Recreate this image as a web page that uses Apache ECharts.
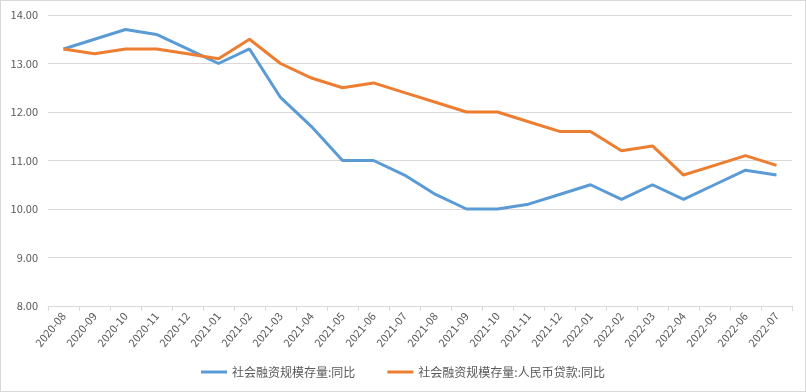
<!DOCTYPE html>
<html><head><meta charset="utf-8">
<script src="https://cdn.jsdelivr.net/npm/echarts@6/dist/echarts.min.js"></script>
<style>html,body{margin:0;padding:0;background:#fff}#c{width:804px;height:390px;border:1px solid #d9d9d9}</style>
</head><body><div id="c"></div>
<script>
const categories = ['2020-08','2020-09','2020-10','2020-11','2020-12','2021-01','2021-02','2021-03','2021-04','2021-05','2021-06','2021-07','2021-08','2021-09','2021-10','2021-11','2021-12','2022-01','2022-02','2022-03','2022-04','2022-05','2022-06','2022-07'];
const seriesTotal = [13.3,13.5,13.7,13.6,13.3,13.0,13.3,12.3,11.7,11.0,11.0,10.7,10.3,10.0,10.0,10.1,10.3,10.5,10.2,10.5,10.2,10.5,10.8,10.7];
const seriesLoans = [13.3,13.2,13.3,13.3,13.2,13.1,13.5,13.0,12.7,12.5,12.6,12.4,12.2,12.0,12.0,11.8,11.6,11.6,11.2,11.3,10.7,10.9,11.1,10.9];
const nameTotal = '社会融资规模存量:同比';
const nameLoans = '社会融资规模存量:人民币贷款:同比';
const font = '"Noto Sans CJK SC", "Microsoft YaHei", sans-serif';
const chart = echarts.init(document.getElementById('c'));
chart.setOption({
  animation:false,
  textStyle:{fontFamily:font},
  grid:{left:47,right:13,top:14,bottom:85},
  legend:{bottom:8,left:'center',itemWidth:26,itemHeight:3,itemGap:32,icon:'rect',
    textStyle:{color:'#595959',fontSize:12,fontFamily:font},
    data:[nameTotal,nameLoans]},
  xAxis:{type:'category',data:categories,boundaryGap:true,
    axisLine:{lineStyle:{color:'#d9d9d9'}},
    axisTick:{show:true,alignWithLabel:false,length:5,lineStyle:{color:'#d9d9d9'}},
    axisLabel:{rotate:50,color:'#595959',fontSize:11,interval:0,margin:8,fontFamily:font}},
  yAxis:{type:'value',min:8,max:14,interval:1,
    axisLabel:{color:'#595959',fontSize:11,formatter:v=>v.toFixed(2),margin:10},
    axisLine:{show:false},axisTick:{show:false},
    splitLine:{lineStyle:{color:'#d9d9d9',width:1}}},
  series:[
    {name:nameTotal,type:'line',data:seriesTotal,showSymbol:false,symbol:'none',lineStyle:{color:'#5B9BD5',width:3},itemStyle:{color:'#5B9BD5'}},
    {name:nameLoans,type:'line',data:seriesLoans,showSymbol:false,symbol:'none',lineStyle:{color:'#ED7D31',width:3},itemStyle:{color:'#ED7D31'}}
  ]
});
</script></body></html>
